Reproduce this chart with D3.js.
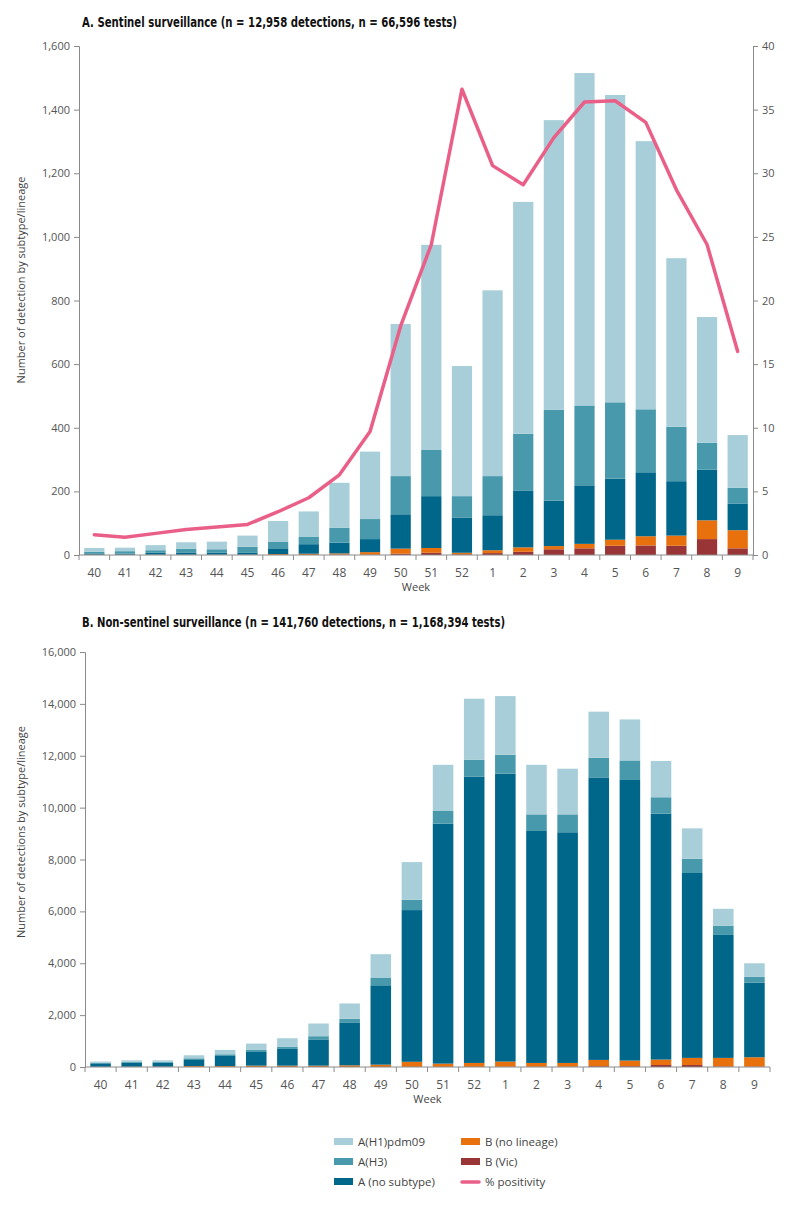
<!DOCTYPE html>
<html lang="en">
<head>
<meta charset="UTF-8">
<title>Influenza detections by week</title>
<style>
  body { margin: 0; background: #fff; }
  svg text { font-family: "Open Sans", "Noto Sans", sans-serif; }
  .title { font-family: "Liberation Sans Narrow", "DejaVu Sans Condensed", "Open Sans", sans-serif; font-stretch: condensed; font-weight: bold; font-size: 13.5px; fill: #111; }
  .tick-label { font-size: 11px; fill: #555; }
  .axis-title { font-size: 11px; fill: #444; }
</style>
</head>
<body>
<svg width="800" height="1209"></svg>
<script src="https://d3js.org/d3.v7.min.js"></script>
<script>
const weeks = ["40","41","42","43","44","45","46","47","48","49","50","51","52","1","2","3","4","5","6","7","8","9"];

// Panel A: sentinel surveillance
const sentH1 = [12,11,16,20,24,35,66,79,141,212,478,645,409,584,729,911,1045,966,843,530,395,166];
const sentH3 = [5,8,8,12,11,18,20,24,47,63,120,145,67,123,178,285,251,240,198,171,85,49];
const sentA  = [4,3,6,7,6,7,18,30,34,41,108,163,111,110,179,143,184,192,201,171,159,84];
const sentB  = [1,1,1,1,1,1,3,4,4,8,16,15,5,9,14,10,14,19,29,32,59,57];
const sentVic = [0,0,0,0,0,0,0,0,1,1,4,7,2,6,10,18,21,29,30,29,50,21];
const positivity = [1.6,1.4,1.7,2.0,2.2,2.4,3.4,4.5,6.3,9.7,18,24.4,36.6,30.6,29.1,32.8,35.6,35.7,34,28.7,24.4,16];

// Panel B: non-sentinel surveillance
const nonH1 = [45,58,53,117,168,232,322,490,592,900,1450,1780,2350,2260,1910,1760,1780,1580,1400,1168,650,526];
const nonH3 = [25,32,37,38,64,91,90,142,158,300,400,490,660,730,640,690,755,754,635,552,358,218];
const nonA  = [132,158,156,258,387,528,645,993,1635,3060,5850,9250,11034,11102,8944,8894,10892,10819,9479,7129,4741,2879];
const nonB  = [8,10,12,39,39,52,52,52,65,90,195,125,151,198,148,148,243,217,208,273,331,367];
const nonVic = [0,0,0,0,0,0,0,0,0,0,5,5,5,10,8,8,30,30,78,78,20,10];

const keys = ["vic","b","a","h3","h1"];
const colors = { h1: "#a8cfd9", h3: "#4799ab", a: "#00678b", b: "#e8700d", vic: "#993536" };
const lineColor = "#ea5f88";
const axisColor = "#8a8a8a";

const svg = d3.select("svg");

function rows(h1, h3, a, b, vic) {
  return weeks.map((w, i) => ({ week: w, h1: h1[i], h3: h3[i], a: a[i], b: b[i], vic: vic[i] }));
}

function drawPanel(opt) {
  const g = svg.append("g");
  const x = d3.scaleBand().domain(weeks).range([opt.left, opt.right]).paddingInner(0.34).paddingOuter(0.17);
  const y = d3.scaleLinear().domain([0, opt.ymax]).range([opt.bottom, opt.top]);

  g.append("text").attr("class", "title").attr("x", 82).attr("y", opt.titleY)
    .attr("textLength", opt.titleWidth).attr("lengthAdjust", "spacingAndGlyphs")
    .text(opt.title);

  const stacked = d3.stack().keys(keys)(opt.data);
  g.selectAll("g.layer").data(stacked).join("g")
    .attr("class", "layer")
    .attr("fill", d => colors[d.key])
    .selectAll("rect").data(d => d).join("rect")
    .attr("x", d => x(d.data.week))
    .attr("width", x.bandwidth())
    .attr("y", d => y(d[1]))
    .attr("height", d => y(d[0]) - y(d[1]));

  // left axis
  const yAxis = d3.axisLeft(y).tickValues(d3.range(0, opt.ymax + 1, opt.ystep))
    .tickFormat(d3.format(",")).tickSize(5).tickPadding(4);
  const ya = g.append("g").attr("transform", `translate(${opt.left},0)`).call(yAxis);
  styleAxis(ya);

  // x axis: ticks on band boundaries
  const step = x.step();
  const xa = g.append("g");
  xa.append("line").attr("x1", opt.left).attr("x2", opt.right)
    .attr("y1", opt.bottom).attr("y2", opt.bottom).attr("stroke", axisColor);
  xa.selectAll("line.tk").data(d3.range(weeks.length + 1)).join("line")
    .attr("class", "tk")
    .attr("x1", i => opt.left + i * step).attr("x2", i => opt.left + i * step)
    .attr("y1", opt.bottom).attr("y2", opt.bottom + 5).attr("stroke", axisColor);
  xa.selectAll("text").data(weeks).join("text")
    .attr("class", "tick-label")
    .style("font-size", "12px")
    .attr("x", d => x(d) + x.bandwidth() / 2)
    .attr("y", opt.bottom + 22)
    .attr("text-anchor", "middle")
    .text(d => d);

  g.append("text").attr("class", "axis-title")
    .attr("x", (opt.left + opt.right) / 2).attr("y", opt.bottom + 36)
    .attr("text-anchor", "middle").text("Week");

  g.append("text").attr("class", "axis-title")
    .attr("transform", `translate(25,${opt.yTitleMid}) rotate(-90)`)
    .attr("text-anchor", "middle").text(opt.yTitle);

  if (opt.line) {
    const y2 = d3.scaleLinear().domain([0, 40]).range([opt.bottom, opt.top]);
    const ra = g.append("g").attr("transform", `translate(${opt.right},0)`)
      .call(d3.axisRight(y2).tickValues(d3.range(0, 41, 5)).tickSize(5).tickPadding(4));
    styleAxis(ra);
    const line = d3.line()
      .x((d, i) => x(weeks[i]) + x.bandwidth() / 2)
      .y(d => y2(d));
    g.append("path").datum(opt.line)
      .attr("fill", "none").attr("stroke", lineColor)
      .attr("stroke-width", 3.5).attr("stroke-linejoin", "round").attr("stroke-linecap", "round")
      .attr("d", line);
  }
}

function styleAxis(sel) {
  sel.select(".domain").attr("stroke", axisColor);
  sel.selectAll(".tick line").attr("stroke", axisColor);
  sel.selectAll(".tick text").attr("class", "tick-label").attr("fill", null);
  sel.attr("font-family", null).attr("font-size", null);
}

drawPanel({
  title: "A. Sentinel surveillance (n = 12,958 detections, n = 66,596 tests)",
  titleY: 27, titleWidth: 375,
  data: rows(sentH1, sentH3, sentA, sentB, sentVic),
  left: 79, right: 753, top: 46, bottom: 555,
  ymax: 1600, ystep: 200,
  yTitle: "Number of detection by subtype/lineage", yTitleMid: 280,
  line: positivity
});

drawPanel({
  title: "B. Non-sentinel surveillance (n = 141,760 detections, n = 1,168,394 tests)",
  titleY: 627, titleWidth: 423,
  data: rows(nonH1, nonH3, nonA, nonB, nonVic),
  left: 85, right: 770, top: 652, bottom: 1067,
  ymax: 16000, ystep: 2000,
  yTitle: "Number of detections by subtype/lineage", yTitleMid: 832
});

// legend
const legendItems = [
  { label: "A(H1)pdm09", key: "h1" },
  { label: "B (no lineage)", key: "b" },
  { label: "A(H3)", key: "h3" },
  { label: "B (Vic)", key: "vic" },
  { label: "A (no subtype)", key: "a" },
  { label: "% positivity", key: "line" }
];
const legend = svg.append("g");
const li = legend.selectAll("g").data(legendItems).join("g")
  .attr("transform", (d, i) => `translate(${i % 2 ? 461 : 334},${1142 + Math.floor(i / 2) * 20})`);
li.filter(d => d.key !== "line").append("rect")
  .attr("x", 0).attr("y", -4).attr("width", 19).attr("height", 7)
  .attr("fill", d => colors[d.key]);
li.filter(d => d.key === "line").append("line")
  .attr("x1", 1).attr("x2", 18).attr("y1", 0).attr("y2", 0)
  .attr("stroke", lineColor).attr("stroke-width", 3.5).attr("stroke-linecap", "round");
li.append("text").attr("class", "axis-title")
  .attr("x", 24).attr("y", 4).style("font-size", "11.5px").attr("fill", "#444")
  .text(d => d.label);
</script>
</body>
</html>
